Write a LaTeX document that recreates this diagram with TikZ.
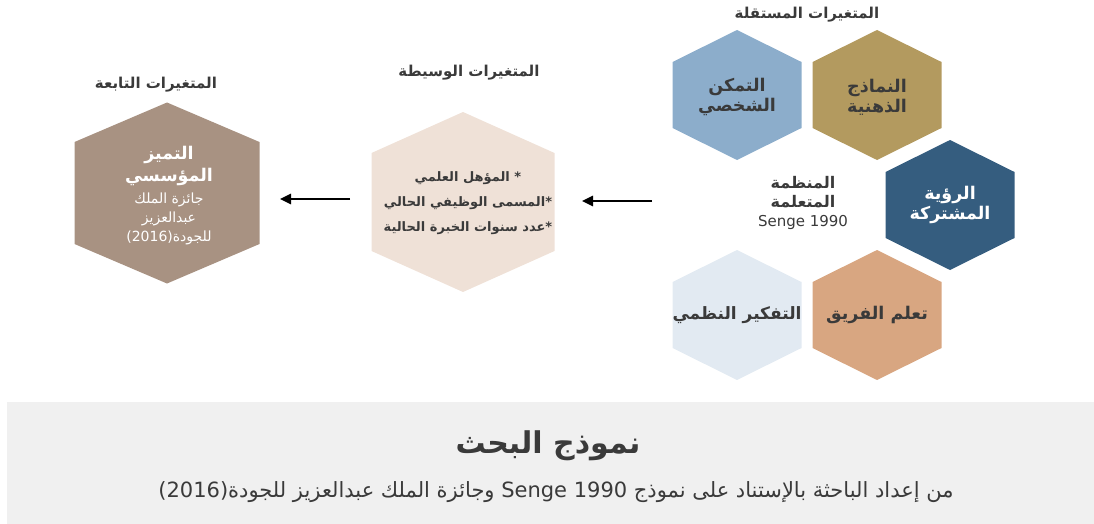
\documentclass[tikz,border=0pt]{standalone}
\usepackage{fontspec}
\usepackage{tikz}
\usetikzlibrary{arrows.meta}
\TeXXeTstate=1
\newfontfamily\arabicfont[Script=Arabic]{DejaVu Sans}
\definecolor{txtgray}{HTML}{3A3A3A}
\definecolor{hexblue}{HTML}{8CADCB}
\definecolor{hexgold}{HTML}{B39A5F}
\definecolor{hexnavy}{HTML}{355D7F}
\definecolor{hexpeach}{HTML}{D8A681}
\definecolor{hexpale}{HTML}{E2EAF2}
\definecolor{hexcream}{HTML}{EFE1D7}
\definecolor{hextaupe}{HTML}{A89282}
\definecolor{bandgray}{HTML}{F0F0F0}
\newcommand{\ar}[1]{\beginR #1\endR}
\newcommand{\hexcell}[6]{ \fill[#1] ( #2 , #3-#5 ) -- ( #2+#4 , #3-#6 ) -- ( #2+#4 , #3+#6 ) -- ( #2 , #3+#5 ) -- ( #2-#4 , #3+#6 ) -- ( #2-#4 , #3-#6 ) -- cycle;}
\newcommand{\smallhex}[3]{\hexcell{#1}{#2}{#3}{64.5}{65}{33}}
\tikzset{
  hexlabel/.style={font=\arabicfont\bfseries\fontsize{17.5}{20}\selectfont, text=txtgray, align=center, inner sep=0pt},
  grouptitle/.style={font=\arabicfont\bfseries\fontsize{15}{17}\selectfont, text=txtgray, inner sep=0pt},
  arr/.style={line width=2.5pt, -{Triangle[length=11pt,width=10pt]}}
}
\begin{document}
\begin{tikzpicture}[x=1pt,y=-1pt]
\useasboundingbox (0,0) rectangle (1094,524);
% independent variables
\smallhex{hexblue}{737}{95}
\smallhex{hexgold}{877}{95}
\smallhex{hexnavy}{950}{205}
\smallhex{hexpale}{737}{315}
\smallhex{hexpeach}{877}{315}
\node[hexlabel] (mastery) at (737,97) {\ar{التمكن}\\\ar{الشخصي}};
\node[hexlabel] (models) at (877,97) {\ar{النماذج}\\\ar{الذهنية}};
\node[hexlabel, text=white] (vision) at (950,205) {\ar{الرؤية}\\\ar{المشتركة}};
\node[hexlabel, font=\arabicfont\bfseries\fontsize{17}{20}\selectfont] (systems) at (737,315) {\ar{التفكير النظمي}};
\node[hexlabel] (team) at (877,315) {\ar{تعلم الفريق}};
\node[hexlabel, font=\arabicfont\bfseries\fontsize{16}{19}\selectfont] (org) at (803,192) {\ar{المنظمة}\\\ar{المتعلمة}};
\node[font=\arabicfont\fontsize{15}{18}\selectfont, text=txtgray, inner sep=0pt] (senge) at (803,222) {Senge 1990};
\node[grouptitle] (indep) at (807,15) {\ar{المتغيرات المستقلة}};
% mediating variables
\hexcell{hexcream}{463}{202}{91.5}{90}{49}
\node[hexlabel, font=\arabicfont\bfseries\fontsize{13}{25}\selectfont] (media) at (468,203) {\ar{\hbox{*} المؤهل العلمي}\\\ar{\hbox{*}المسمى الوظيفي الحالي}\\\ar{\hbox{*}عدد سنوات الخبرة الحالية}};
\node[grouptitle] (medtitle) at (469,73) {\ar{المتغيرات الوسيطة}};
% dependent variables
\hexcell{hextaupe}{167}{193}{92.5}{90.5}{51}
\node[hexlabel, text=white, font=\arabicfont\bfseries\fontsize{17.5}{22}\selectfont] (excel) at (169,166) {\ar{التميز}\\\ar{المؤسسي}};
\node[hexlabel, text=white, font=\arabicfont\fontsize{14}{19}\selectfont] (award) at (169,219) {\ar{جائزة الملك}\\\ar{عبدالعزيز}\\\ar{للجودة\beginL(2016)\endL}};
\node[grouptitle] (deptitle) at (156,85) {\ar{المتغيرات التابعة}};
% arrows
\coordinate (a1s) at (652,201);
\coordinate (a1e) at (582,201);
\coordinate (a2s) at (350,199);
\coordinate (a2e) at (280,199);
\draw[arr] (a1s) -- (a1e);
\draw[arr] (a2s) -- (a2e);
% caption band
\fill[bandgray] (7,402) rectangle (1094,524);
\node[font=\arabicfont\bfseries\fontsize{30}{33}\selectfont, text=txtgray, inner sep=0pt] (captitle) at (548,446) {\ar{نموذج البحث}};
\node[font=\arabicfont\fontsize{21}{24}\selectfont, text=txtgray, inner sep=0pt] (capsub) at (556,492) {\ar{من إعداد الباحثة بالإستناد على نموذج \beginL Senge 1990\endL{} وجائزة الملك عبدالعزيز للجودة\beginL(2016)\endL}};
\end{tikzpicture}
\end{document}
